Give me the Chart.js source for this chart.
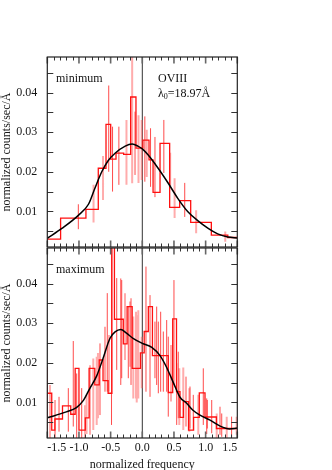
<!DOCTYPE html>
<html><head><meta charset="utf-8">
<script src="https://cdn.jsdelivr.net/npm/chart.js@4.4.1/dist/chart.umd.min.js"></script>
<style>
html,body{margin:0;padding:0;background:#fff;overflow:hidden;width:332px;height:470px;}
#wrap{position:relative;width:332px;height:470px;overflow:hidden;}
canvas{position:absolute;left:0;}
.lbl{position:absolute;font-family:"Liberation Serif","Times New Roman",serif;font-size:12px;color:#111;line-height:14px;white-space:nowrap;}
.lbl sub{font-size:8px;vertical-align:-2px;line-height:0;}
</style></head><body>
<div id="wrap">
<canvas id="c1" width="332" height="248" style="top:0"></canvas>
<canvas id="c2" width="332" height="232" style="top:240px"></canvas>
<div class="lbl" style="left:56px;top:71px">minimum</div>
<div class="lbl" style="left:158px;top:71px">OVIII</div>
<div class="lbl" style="left:158px;top:86px">λ<sub>0</sub>=18.97Å</div>
<div class="lbl" style="left:56px;top:262px">maximum</div>
</div>
<script>
// ---------- tick labels ----------
const xTickValues = [-1.5, -1.0, -0.5, 0.0, 0.5, 1.0, 1.5];
const yTickValues = [0.01, 0.02, 0.03, 0.04];

// ---------- top panel: "minimum" ----------
const minEdges  = [-1.5, -1.29, -0.89, -0.695, -0.573, -0.499, -0.415, -0.294, -0.184, -0.10, 0.01, 0.106, 0.17, 0.28, 0.432, 0.59, 0.764, 1.09, 1.35, 1.5];
const minCounts = [0.0030, 0.0083, 0.0105, 0.0209, 0.0320, 0.0232, 0.0247, 0.0244, 0.0389, 0.0260, 0.0280, 0.0230, 0.0148, 0.0272, 0.0110, 0.0127, 0.0072, 0.0040, 0.0034];
const minFitX = [-1.5, -1.27, -1.01, -0.85, -0.75, -0.64, -0.54, -0.43, -0.27, -0.16, -0.07, 0.0, 0.09, 0.25, 0.41, 0.56, 0.72, 0.88, 1.04, 1.19, 1.35, 1.5];
const minFitY = [0.0032, 0.0057, 0.0090, 0.0118, 0.0158, 0.0200, 0.0228, 0.0247, 0.0265, 0.0270, 0.0265, 0.0258, 0.0243, 0.0209, 0.0171, 0.0133, 0.0099, 0.0076, 0.0057, 0.0043, 0.0035, 0.0033];
const minErrX  = [-1.01, -0.77, -0.62, -0.53, -0.47, -0.37, -0.25, -0.16, -0.115, -0.06, -0.01, 0.04, 0.07, 0.13, 0.20, 0.34, 0.44, 0.51, 0.67, 0.85, 1.31];
const minErrLo = [0.0055, 0.0072, 0.0129, 0.0200, 0.0150, 0.0167, 0.0167, 0.0171, 0.0192, 0.0172, 0.0179, 0.0175, 0.0187, 0.0162, 0.0136, 0.0197, 0.0162, 0.0083, 0.0086, 0.0045, 0.0023];
const minErrHi = [0.0118, 0.0167, 0.0240, 0.0418, 0.0314, 0.0314, 0.0331, 0.0500, 0.0352, 0.0343, 0.0331, 0.0340, 0.0306, 0.0310, 0.0288, 0.0331, 0.0248, 0.0184, 0.0172, 0.0103, 0.0049];
const minErrKind = ['r','p','p','r','r','r','p','p','r','p','p','r','p','r','r','r','p','p','r','p','p'];

// ---------- bottom panel: "maximum" ----------
const maxEdges  = [-1.5, -1.43, -1.38, -1.26, -1.13, -1.06, -1.00, -0.90, -0.84, -0.75, -0.68, -0.62, -0.54, -0.48, -0.44, -0.30, -0.24, -0.16, -0.03, 0.03, 0.095, 0.16, 0.41, 0.48, 0.54, 0.595, 0.65, 0.73, 0.81, 0.90, 0.99, 1.17, 1.5];
const maxCounts = [0.0123, 0.0030, 0.0058, 0.0091, 0.0070, 0.0186, 0.0030, 0.0061, 0.0186, 0.0144, 0.0207, 0.0155, 0.0123, 0.0600, 0.0310, 0.0248, 0.0342, 0.0186, 0.0225, 0.0279, 0.0342, 0.0218, 0.0125, 0.0311, 0.0127, 0.0062, 0.0102, 0.0030, 0.0062, 0.0124, 0.0063, 0.0034];
const maxFitX = [-1.5, -1.2, -1.04, -0.93, -0.83, -0.72, -0.62, -0.51, -0.43, -0.34, -0.25, -0.14, 0.0, 0.15, 0.28, 0.385, 0.49, 0.595, 0.70, 0.80, 0.91, 1.07, 1.23, 1.38, 1.5];
const maxFitY = [0.0061, 0.0076, 0.0087, 0.0105, 0.0135, 0.0167, 0.0211, 0.0262, 0.0278, 0.0284, 0.0275, 0.0261, 0.0249, 0.0239, 0.0218, 0.0188, 0.0150, 0.0113, 0.0098, 0.0080, 0.0068, 0.0055, 0.0040, 0.0033, 0.0035];
const maxErrX  = [-1.497, -1.457, -1.378, -1.315, -1.168, -1.09, -1.036, -0.957, -0.905, -0.88, -0.826, -0.774, -0.72, -0.70, -0.668, -0.589, -0.553, -0.526, -0.486, -0.404, -0.34, -0.325, -0.273, -0.221, -0.194, -0.178, -0.142, -0.099, -0.088, -0.063, -0.009, 0.058, 0.122, 0.20, 0.227, 0.253, 0.29, 0.332, 0.385, 0.41, 0.453, 0.50, 0.543, 0.568, 0.584, 0.647, 0.69, 0.742, 0.753, 0.805, 0.884, 0.963, 1.017, 1.026, 1.096, 1.175, 1.227, 1.254, 1.333, 1.41, 1.49];
const maxErrLo = [0.0026, 0.0010, 0.0010, 0.0026, 0.0026, 0.0039, 0.0010, 0.0010, 0.0010, 0.0020, 0.0018, 0.0030, 0.0043, 0.0060, 0.0068, 0.0127, 0.0127, 0.0127, 0.0043, 0.0182, 0.0144, 0.0161, 0.0207, 0.0161, 0.0190, 0.0144, 0.0110, 0.0110, 0.0100, 0.0110, 0.0136, 0.0127, 0.0114, 0.0161, 0.0144, 0.0123, 0.0127, 0.0127, 0.0127, 0.0064, 0.0102, 0.0144, 0.0043, 0.0060, 0.0043, 0.0030, 0.0039, 0.0026, 0.0034, 0.0030, 0.0018, 0.0043, 0.0020, 0.0034, 0.0022, 0.0010, 0.0018, 0.0013, 0.0010, 0.0010, 0.0018];
const maxErrHi = [0.0190, 0.0144, 0.0106, 0.0114, 0.0136, 0.0255, 0.0173, 0.0136, 0.0093, 0.0120, 0.0194, 0.0211, 0.0215, 0.0225, 0.0249, 0.0291, 0.0376, 0.0270, 0.0550, 0.0414, 0.0413, 0.0409, 0.0376, 0.0342, 0.0355, 0.0363, 0.0317, 0.0329, 0.0320, 0.0333, 0.0266, 0.0443, 0.0371, 0.0304, 0.0342, 0.0304, 0.0329, 0.0279, 0.0308, 0.0266, 0.0245, 0.0409, 0.0199, 0.0228, 0.0186, 0.0188, 0.0165, 0.0136, 0.0140, 0.0119, 0.0119, 0.0186, 0.0110, 0.0106, 0.0106, 0.0072, 0.0089, 0.0072, 0.0064, 0.0064, 0.0064];
const maxErrKind = ['r','p','r','r','r','r','r','r','p','p','p','p','p','p','r','r','r','p','r','r','r','r','p','r','p','r','p','p','p','p','p','r','r','r','r','r','r','r','r','r','p','r','r','r','p','p','r','p','r','r','p','r','r','r','r','p','r','r','p','r','p'];

// ---------- helpers ----------
const FONT = {family: '"Liberation Serif","Times New Roman",serif', size: 12};
const TXT = '#151515';

function stepPoints(edges, vals) {
  const pts = vals.map((v, i) => ({x: edges[i], y: v}));
  pts.push({x: edges[edges.length - 1], y: vals[vals.length - 1]});
  return pts;
}
function barPoints(xs, lo, hi, kind, k) {
  const pts = [];
  xs.forEach((x, i) => {
    if (kind[i] !== k) return;
    pts.push({x: x, y: lo[i]}, {x: x, y: hi[i]}, {x: x, y: null});
  });
  return pts;
}

const framePlugin = {
  id: 'frame',
  afterDatasetsDraw(chart) {
    const {ctx, chartArea: a, scales: {x, y}} = chart;
    ctx.save();
    ctx.strokeStyle = '#333'; ctx.lineWidth = 1;
    ctx.beginPath();
    for (let i = -15; i <= 15; i++) {
      if (i % 5 === 0) continue;
      const px = Math.round(x.getPixelForValue(i / 10)) + 0.5;
      ctx.moveTo(px, a.top); ctx.lineTo(px, a.top + 3.5);
      ctx.moveTo(px, a.bottom); ctx.lineTo(px, a.bottom - 3.5);
    }
    for (let j = 1; j <= 9; j++) {
      const py = Math.round(y.getPixelForValue(j * 0.005)) + 0.5;
      ctx.moveTo(a.left, py); ctx.lineTo(a.left + 6, py);
      ctx.moveTo(a.right, py); ctx.lineTo(a.right - 6, py);
    }
    ctx.stroke();
    ctx.strokeStyle = '#666'; ctx.lineWidth = 1.6;
    ctx.beginPath();
    xTickValues.forEach(v => {
      const px = x.getPixelForValue(v);
      ctx.moveTo(px, a.top); ctx.lineTo(px, a.top + 6.5);
      ctx.moveTo(px, a.bottom); ctx.lineTo(px, a.bottom - 6.5);
    });
    ctx.stroke();
    ctx.strokeStyle = '#222'; ctx.lineWidth = 1.2;
    ctx.strokeRect(a.left, a.top, a.right - a.left, a.bottom - a.top);
    ctx.restore();
  }
};

function makeChart(id, pad, showX, edges, counts, fitX, fitY, ex, elo, ehi, ekind) {
  const datasets = [
    {label: 'fit', data: fitX.map((v, i) => ({x: v, y: fitY[i]})), borderColor: '#000', borderWidth: 1.5,
     cubicInterpolationMode: 'monotone', pointRadius: 0, order: 1},
    {label: 'hist', data: stepPoints(edges, counts), borderColor: '#ff1010', borderWidth: 1.3,
     stepped: true, pointRadius: 0, order: 2},
    {label: 'errRed', data: barPoints(ex, elo, ehi, ekind, 'r'), borderColor: 'rgba(255,30,30,0.8)', borderWidth: 1,
     spanGaps: false, pointRadius: 0, order: 3},
    {label: 'errPink', data: barPoints(ex, elo, ehi, ekind, 'p'), borderColor: 'rgba(255,90,90,0.5)', borderWidth: 2,
     spanGaps: false, pointRadius: 0, order: 4},
    {label: 'zero', data: [{x: 0, y: 0}, {x: 0, y: 0.06}], borderColor: '#333', borderWidth: 1,
     pointRadius: 0, order: 5}
  ];
  return new Chart(document.getElementById(id), {
    type: 'line',
    data: {datasets},
    options: {
      responsive: false, animation: false, devicePixelRatio: 1, events: [],
      layout: {padding: pad},
      plugins: {legend: {display: false}, tooltip: {enabled: false}},
      scales: {
        x: {
          type: 'linear', min: -1.5, max: 1.5, display: showX,
          grid: {display: false, drawTicks: false}, border: {display: false},
          afterBuildTicks: s => { s.ticks = xTickValues.map(v => ({value: v})); },
          ticks: {font: FONT, color: TXT, padding: 3, align: 'inner', maxRotation: 0, autoSkip: false,
                  callback: v => Number(v).toFixed(1)},
          title: {display: true, text: 'normalized frequency', font: FONT, color: TXT, padding: {top: 0, bottom: 0}},
          afterFit: s => { s.height = showX ? 34 : 0; s.paddingLeft = 0; s.paddingRight = 0; }
        },
        y: {
          type: 'linear', min: 0.001, max: 0.049,
          grid: {display: false, drawTicks: false}, border: {display: false},
          afterBuildTicks: s => { s.ticks = yTickValues.map(v => ({value: v})); },
          ticks: {font: FONT, color: TXT, padding: 10, callback: v => Number(v).toFixed(2)},
          title: {display: true, text: 'normalized counts/sec/Å', font: FONT, color: TXT, padding: {top: 0, bottom: 0}},
          afterFit: s => { s.width = 47.3; s.paddingTop = 0; s.paddingBottom = 0; }
        }
      }
    },
    plugins: [framePlugin]
  });
}

makeChart('c1', {top: 57, left: 0, right: 94.7, bottom: 1}, false,
  minEdges, minCounts, minFitX, minFitY, minErrX, minErrLo, minErrHi, minErrKind);
makeChart('c2', {top: 8, left: 0, right: 94.7, bottom: 0}, true,
  maxEdges, maxCounts, maxFitX, maxFitY, maxErrX, maxErrLo, maxErrHi, maxErrKind);
</script>
</body></html>
